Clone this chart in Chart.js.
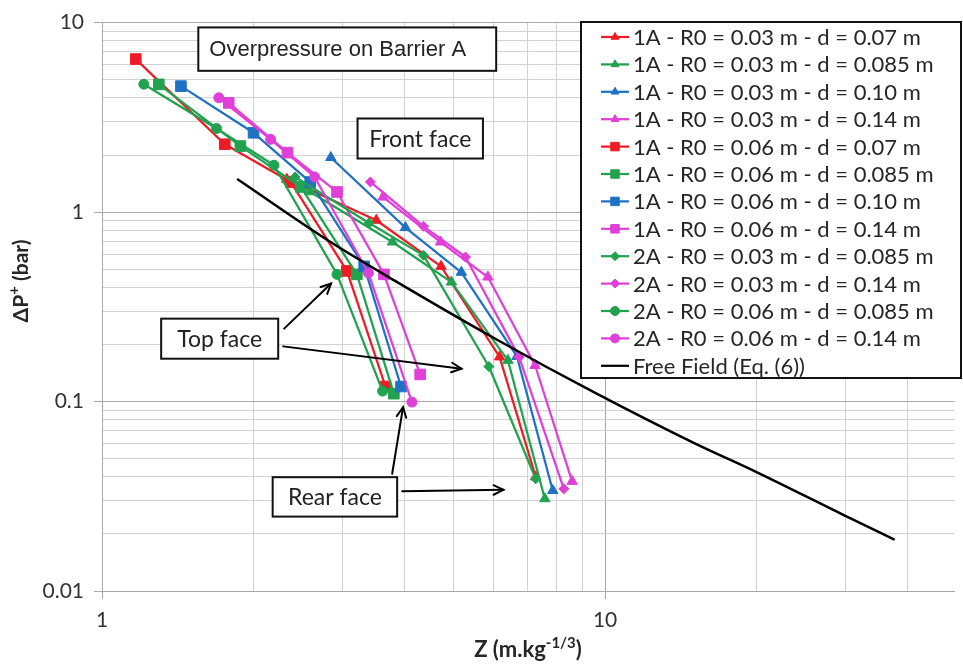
<!DOCTYPE html>
<html><head><meta charset="utf-8">
<script src="https://cdn.jsdelivr.net/npm/chart.js@4.4.1/dist/chart.umd.min.js"></script>
<style>html,body{margin:0;padding:0;background:#fff;overflow:hidden}</style>
</head><body>
<canvas id="c" width="963" height="666"></canvas>
<script>
// ---------- data ----------
const seriesLabels = [
  '1A - R0 = 0.03 m - d = 0.07 m',
  '1A - R0 = 0.03 m - d = 0.085 m',
  '1A - R0 = 0.03 m - d = 0.10 m',
  '1A - R0 = 0.03 m - d = 0.14 m',
  '1A - R0 = 0.06 m - d = 0.07 m',
  '1A - R0 = 0.06 m - d = 0.085 m',
  '1A - R0 = 0.06 m - d = 0.10 m',
  '1A - R0 = 0.06 m - d = 0.14 m',
  '2A - R0 = 0.03 m - d = 0.085 m',
  '2A - R0 = 0.03 m - d = 0.14 m',
  '2A - R0 = 0.06 m - d = 0.085 m',
  '2A - R0 = 0.06 m - d = 0.14 m',
  'Free Field (Eq. (6))'
];
const z1A_003_007  = [2.33, 3.51, 4.72, 6.17, 7.28];
const p1A_003_007  = [1.49, 0.905, 0.517, 0.172, 0.040];
const z1A_003_0085 = [2.59, 3.78, 4.95, 6.41, 7.59];
const p1A_003_0085 = [1.28, 0.695, 0.427, 0.165, 0.0307];
const z1A_003_010  = [2.85, 4.01, 5.18, 6.68, 7.87];
const p1A_003_010  = [1.94, 0.828, 0.481, 0.173, 0.0339];
const z1A_003_014  = [3.62, 4.71, 5.85, 7.26, 8.60];
const p1A_003_014  = [1.20, 0.695, 0.454, 0.155, 0.0379];
const z1A_006_007  = [1.167, 1.754, 2.373, 3.068, 3.661];
const p1A_006_007  = [6.42, 2.28, 1.44, 0.489, 0.120];
const z1A_006_0085 = [1.297, 1.884, 2.484, 3.211, 3.803];
const p1A_006_0085 = [4.72, 2.23, 1.357, 0.469, 0.110];
const z1A_006_010  = [1.435, 2.001, 2.594, 3.320, 3.930];
const p1A_006_010  = [4.62, 2.62, 1.44, 0.517, 0.120];
const z1A_006_014  = [1.786, 2.337, 2.932, 3.635, 4.290];
const p1A_006_014  = [3.77, 2.06, 1.277, 0.469, 0.139];
const z2A_003_0085 = [2.42, 3.395, 4.357, 5.875, 7.28];
const p2A_003_0085 = [1.53, 0.876, 0.591, 0.153, 0.0391];
const z2A_003_014  = [3.416, 4.357, 5.28, 6.75, 8.28];
const p2A_003_014  = [1.442, 0.841, 0.579, 0.1716, 0.0346];
const z2A_006_0085 = [1.211, 1.689, 2.197, 2.932, 3.612];
const p2A_006_0085 = [4.73, 2.76, 1.767, 0.469, 0.1135];
const z2A_006_014  = [1.707, 2.164, 2.646, 3.385, 4.131];
const p2A_006_014  = [4.01, 2.42, 1.532, 0.477, 0.0993];
const zFree = [1.863, 2.81, 3.861, 6.075, 9.56, 15.04, 20.0, 29.96, 37.5];
const pFree = [1.484, 0.710, 0.427, 0.2132, 0.111, 0.0603, 0.0424, 0.025, 0.01875];

const xTickValues = [1,2,3,4,5,6,7,8,9,10,20,30,40];
const yTickValues = [0.01,0.02,0.03,0.04,0.05,0.06,0.07,0.08,0.09,0.1,0.2,0.3,0.4,0.5,0.6,0.7,0.8,0.9,1,2,3,4,5,6,7,8,9,10];
const xLabelValues = [1, 10];
const xTickLabels = ['1', '10'];
const yLabelValues = [0.01, 0.1, 1, 10];
const yTickLabels = ['0.01', '0.1', '1', '10'];

// ---------- styles ----------
const RED = '#ee1c25', GREEN = '#21a24f', BLUE = '#1f71c3', MAG = '#e03fd8';
const seriesZ = [z1A_003_007, z1A_003_0085, z1A_003_010, z1A_003_014, z1A_006_007, z1A_006_0085, z1A_006_010, z1A_006_014, z2A_003_0085, z2A_003_014, z2A_006_0085, z2A_006_014, zFree];
const seriesP = [p1A_003_007, p1A_003_0085, p1A_003_010, p1A_003_014, p1A_006_007, p1A_006_0085, p1A_006_010, p1A_006_014, p2A_003_0085, p2A_003_014, p2A_006_0085, p2A_006_014, pFree];
const colors = [RED, GREEN, BLUE, MAG, RED, GREEN, BLUE, MAG, GREEN, MAG, GREEN, MAG, '#000000'];
const styles = ['triangle','triangle','triangle','triangle','rect','rect','rect','rect','rectRot','rectRot','circle','circle', false];
const radii = {triangle: 6, rect: 7.5, rectRot: 5, circle: 5};

const datasets = seriesLabels.map((lab, i) => ({
  label: lab,
  data: seriesZ[i].map((z, k) => ({x: z, y: seriesP[i][k]})),
  borderColor: colors[i],
  backgroundColor: colors[i],
  borderWidth: i === 12 ? 2.5 : 2.25,
  pointStyle: styles[i],
  pointRadius: styles[i] ? radii[styles[i]] : 0,
  pointBorderWidth: 1,
  pointBackgroundColor: colors[i],
  pointBorderColor: colors[i],
  tension: 0,
  cubicInterpolationMode: i === 12 ? 'monotone' : 'default',
  fill: false,
  order: seriesLabels.length - i
}));

// annotations in data coordinates
const boxes = [
  {x1: 1.554, x2: 6.075, y1: 9.43, y2: 5.565, text: 'Overpressure on Barrier A', font: '22px "Liberation Sans", Arial, sans-serif', align: 'left', pad: 11},
  {x1: 3.221, x2: 5.718, y1: 3.118, y2: 1.917, text: 'Front face', font: '23px Lato, sans-serif', align: 'center'},
  {x1: 1.311, x2: 2.240, y1: 0.2738, y2: 0.1683, text: 'Top face', font: '23px Lato, sans-serif', align: 'center'},
  {x1: 2.184, x2: 3.861, y1: 0.03987, y2: 0.0247, text: 'Rear face', font: '23px Lato, sans-serif', align: 'center'}
];
const arrows = [
  {x1: 2.302, y1: 0.2425, x2: 2.853, y2: 0.4194},
  {x1: 2.292, y1: 0.1955, x2: 5.183, y2: 0.149},
  {x1: 3.774, y1: 0.04156, x2: 3.967, y2: 0.0934},
  {x1: 3.950, y1: 0.03363, x2: 6.28, y2: 0.0342}
];

function near(a, b) { return Math.abs(a - b) / b < 1e-6; }
function isDecade(v) { return v !== undefined && Math.abs(Math.log10(v) - Math.round(Math.log10(v))) < 1e-6; }

function drawMarker(ctx, style, r, x, y, color) {
  ctx.save();
  ctx.fillStyle = color; ctx.strokeStyle = color; ctx.lineWidth = 1;
  ctx.beginPath();
  if (style === 'triangle') {
    for (let k = 0; k < 3; k++) {
      const a = -Math.PI / 2 + k * 2 * Math.PI / 3;
      const px = x + Math.cos(a) * r, py = y + Math.sin(a) * r;
      k ? ctx.lineTo(px, py) : ctx.moveTo(px, py);
    }
    ctx.closePath();
  } else if (style === 'rect') {
    const s = r * Math.SQRT1_2; ctx.rect(x - s, y - s, 2 * s, 2 * s);
  } else if (style === 'rectRot') {
    ctx.moveTo(x, y - r); ctx.lineTo(x + r, y); ctx.lineTo(x, y + r); ctx.lineTo(x - r, y); ctx.closePath();
  } else if (style === 'circle') {
    ctx.arc(x, y, r, 0, Math.PI * 2);
  }
  ctx.fill(); ctx.stroke();
  ctx.restore();
}

function drawSupText(ctx, parts, big, small, cx, y, rise) {
  ctx.font = 'bold ' + big + 'px Lato, sans-serif';
  const w1 = ctx.measureText(parts[0]).width, w3 = ctx.measureText(parts[2]).width;
  ctx.font = 'bold ' + small + 'px Lato, sans-serif';
  const w2 = ctx.measureText(parts[1]).width;
  const x0 = cx - (w1 + w2 + w3) / 2;
  ctx.textAlign = 'left'; ctx.textBaseline = 'alphabetic';
  ctx.font = 'bold ' + big + 'px Lato, sans-serif'; ctx.fillText(parts[0], x0, y);
  ctx.font = 'bold ' + small + 'px Lato, sans-serif'; ctx.fillText(parts[1], x0 + w1, y - rise);
  ctx.font = 'bold ' + big + 'px Lato, sans-serif'; ctx.fillText(parts[2], x0 + w1 + w2, y);
}

const overlayPlugin = {
  id: 'overlay',
  afterDraw(chart) {
    const ctx = chart.ctx, xs = chart.scales.x, ys = chart.scales.y;
    ctx.save();
    // arrows
    ctx.strokeStyle = '#000'; ctx.lineWidth = 2; ctx.lineCap = 'round';
    arrows.forEach(a => {
      const x1 = xs.getPixelForValue(a.x1), y1 = ys.getPixelForValue(a.y1);
      const x2 = xs.getPixelForValue(a.x2), y2 = ys.getPixelForValue(a.y2);
      const ang = Math.atan2(y2 - y1, x2 - x1), L = 11, w = 0.45;
      ctx.beginPath(); ctx.moveTo(x1, y1); ctx.lineTo(x2, y2); ctx.stroke();
      ctx.beginPath();
      ctx.moveTo(x2 - L * Math.cos(ang - w), y2 - L * Math.sin(ang - w));
      ctx.lineTo(x2, y2);
      ctx.lineTo(x2 - L * Math.cos(ang + w), y2 - L * Math.sin(ang + w));
      ctx.stroke();
    });
    // boxes
    boxes.forEach(b => {
      const l = xs.getPixelForValue(b.x1), r = xs.getPixelForValue(b.x2);
      const t = ys.getPixelForValue(b.y1), bt = ys.getPixelForValue(b.y2);
      ctx.fillStyle = '#fff'; ctx.fillRect(l, t, r - l, bt - t);
      ctx.strokeStyle = '#111'; ctx.lineWidth = 2; ctx.strokeRect(l, t, r - l, bt - t);
      ctx.fillStyle = '#222'; ctx.font = b.font; ctx.textBaseline = 'middle';
      if (b.align === 'left') { ctx.textAlign = 'left'; ctx.fillText(b.text, l + b.pad, (t + bt) / 2 + 1); }
      else { ctx.textAlign = 'center'; ctx.fillText(b.text, (l + r) / 2, (t + bt) / 2 + 1); }
    });
    // legend
    const L0 = 581, T0 = 22, W0 = 380, H0 = 356;
    ctx.fillStyle = '#fff'; ctx.fillRect(L0, T0, W0, H0);
    ctx.strokeStyle = '#111'; ctx.lineWidth = 2; ctx.strokeRect(L0, T0, W0, H0);
    chart.data.datasets.forEach((ds, i) => {
      const y = 37 + i * 27.4;
      ctx.strokeStyle = ds.borderColor; ctx.lineWidth = 2.25; ctx.lineCap = 'butt';
      ctx.beginPath(); ctx.moveTo(601, y); ctx.lineTo(629, y); ctx.stroke();
      if (ds.pointStyle) drawMarker(ctx, ds.pointStyle, ds.pointStyle === 'rect' ? 6 : 4.5, 615, y, ds.borderColor);
      ctx.fillStyle = '#262626';
      ctx.textAlign = 'left'; ctx.textBaseline = 'middle';
      ctx.font = '22px Lato, sans-serif';
      ctx.fillText(ds.label, 633, y + 1);
    });
    // axis titles
    ctx.fillStyle = '#262626';
    drawSupText(ctx, ['Z (m.kg', '-1/3', ')'], 22, 15, 528, 657, 9);
    ctx.translate(28, 281); ctx.rotate(-Math.PI / 2);
    drawSupText(ctx, ['\u0394P', '+', ' (bar)'], 21, 15, 0, 0, 9);
    ctx.restore();
  }
};

const gridCol = c => (c.tick && isDecade(c.tick.value)) ? '#a8a8a8' : '#d2d2d2';
const tickCol = c => (c.tick && isDecade(c.tick.value)) ? '#a8a8a8' : 'rgba(0,0,0,0)';

new Chart(document.getElementById('c'), {
  type: 'line',
  data: { datasets },
  options: {
    responsive: false, animation: false, devicePixelRatio: 1,
    layout: { padding: { top: 22, left: 0, right: 0, bottom: 0 } },
    plugins: { legend: { display: false }, tooltip: { enabled: false } },
    elements: { line: { borderCapStyle: 'round', borderJoinStyle: 'round' } },
    scales: {
      x: {
        type: 'logarithmic', min: 1, max: 49.5,
        afterBuildTicks: s => { s.ticks = xTickValues.map(v => ({ value: v })); },
        afterFit: s => { s.height = 75; },
        ticks: {
          autoSkip: false, maxRotation: 0, padding: 9, color: '#333',
          font: { family: 'Lato', size: 21 },
          callback: v => { const i = xLabelValues.findIndex(a => near(v, a)); return i >= 0 ? xTickLabels[i] : ''; }
        },
        grid: { color: gridCol, tickColor: tickCol, tickLength: 8, lineWidth: 1 },
        border: { color: '#a8a8a8', width: 1 }
      },
      y: {
        type: 'logarithmic', min: 0.01, max: 10,
        afterBuildTicks: s => { s.ticks = yTickValues.map(v => ({ value: v })); },
        afterFit: s => { s.width = 102; },
        ticks: {
          autoSkip: false, padding: 10, color: '#333',
          font: { family: 'Lato', size: 21 },
          callback: v => { const i = yLabelValues.findIndex(a => near(v, a)); return i >= 0 ? yTickLabels[i] : ''; }
        },
        grid: { color: gridCol, tickColor: tickCol, tickLength: 8, lineWidth: 1 },
        border: { color: '#a8a8a8', width: 1 }
      }
    }
  },
  plugins: [overlayPlugin]
});
</script>
</body></html>
